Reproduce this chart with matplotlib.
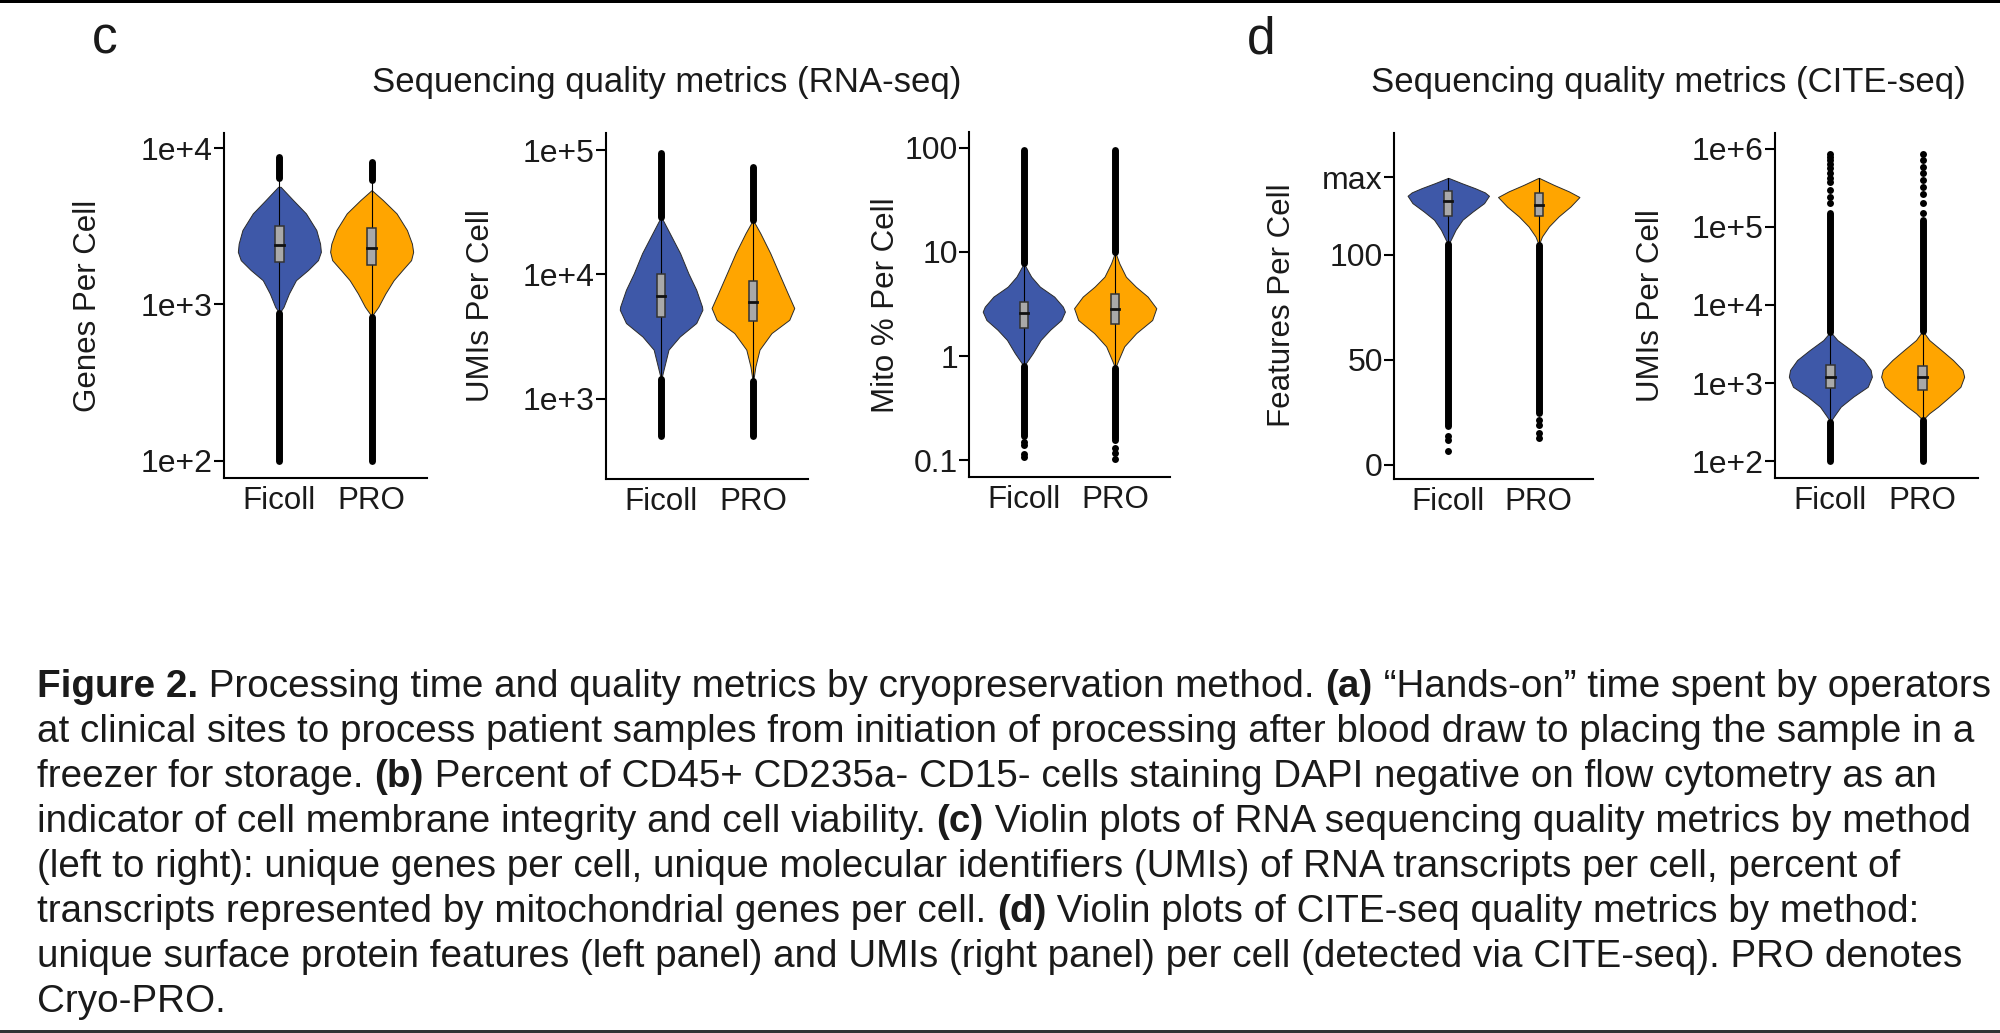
import matplotlib.pyplot as plt
from matplotlib.patches import Rectangle
from matplotlib.ticker import FixedLocator, FixedFormatter, NullLocator

plt.rcParams['font.family'] = ['Liberation Sans', 'DejaVu Sans']

W, H = 2000, 1033
TXT = '#1a1a1a'

groups = ['Ficoll', 'PRO']
fill_colors = ['#3E58A8', '#FFA500']

# ---- Genes per cell (RNA-seq) ----
genes_violin_y = [[5650, 4650, 3820, 2990, 2450, 2170, 1920, 1660, 1430, 1175, 965, 880],
                  [5380, 4650, 3820, 2990, 2450, 2170, 1920, 1660, 1430, 1175, 965, 841]]
genes_violin_w = [[0.03, 0.33, 0.64, 0.89, 0.98, 1.0, 0.93, 0.69, 0.40, 0.23, 0.10, 0.0],
                  [0.0, 0.27, 0.60, 0.85, 0.97, 1.0, 0.95, 0.74, 0.53, 0.33, 0.16, 0.0]]
genes_box = [[1860, 2400, 3160], [1780, 2280, 3060]]
genes_whisker = [[880, 6400], [830, 6240]]
genes_dense = [[(100, 880), (6400, 8700)], [(100, 830), (6240, 8170)]]
genes_sparse = [[], []]

# ---- UMIs per cell (RNA-seq) ----
umis_violin_y = [[29100, 21400, 14800, 10200, 7520, 5510, 5190, 4060, 3160, 2480, 1820, 1420],
                 [27400, 21400, 14800, 10200, 7060, 5360, 4310, 3370, 2480, 1820, 1340]]
umis_violin_w = [[0.0, 0.21, 0.46, 0.66, 0.85, 0.99, 1.0, 0.85, 0.45, 0.18, 0.08, 0.0],
                 [0.0, 0.18, 0.42, 0.63, 0.84, 1.0, 0.88, 0.45, 0.16, 0.06, 0.0]]
umis_box = [[4580, 6640, 10100], [4210, 5940, 8870]]
umis_whisker = [[1450, 29100], [1380, 27400]]
umis_dense = [[(498, 1450), (29100, 94000)], [(498, 1380), (27400, 73500)]]
umis_sparse = [[], []]

# ---- Mito % per cell ----
mito_violin_y = [[7.76, 5.78, 4.64, 3.72, 2.98, 2.67, 2.22, 1.79, 1.43, 1.07, 0.80],
                 [10.0, 7.76, 5.78, 4.64, 3.72, 2.88, 2.22, 1.66, 1.24, 0.92, 0.77]]
mito_violin_w = [[0.0, 0.18, 0.39, 0.74, 0.95, 1.0, 0.91, 0.64, 0.41, 0.22, 0.0],
                 [0.0, 0.10, 0.26, 0.50, 0.79, 1.0, 0.90, 0.51, 0.22, 0.08, 0.0]]
mito_box = [[1.85, 2.61, 3.33], [2.04, 2.84, 3.94]]
mito_whisker = [[0.80, 7.76], [0.77, 10.0]]
mito_dense = [[(0.17, 0.80), (7.76, 94)], [(0.165, 0.77), (10.0, 94)]]
mito_sparse = [[0.15, 0.14, 0.115, 0.107], [0.158, 0.132, 0.118, 0.102]]

# ---- Features per cell (CITE-seq) ----
feat_max = 137
feat_violin_y = [[136.5, 134.1, 131.7, 129.7, 128.1, 124.6, 120.6, 116.7, 111.9, 107.1, 105.0],
                 [136.5, 133.3, 130.2, 127.5, 123.0, 118.3, 113.5, 108.7, 104.8]]
feat_violin_w = [[0.02, 0.33, 0.66, 0.90, 1.0, 0.88, 0.60, 0.35, 0.18, 0.06, 0.0],
                 [0.02, 0.37, 0.74, 1.0, 0.78, 0.49, 0.25, 0.08, 0.0]]
feat_box = [[118.3, 125.4, 130.2], [118.3, 123.8, 129.4]]
feat_whisker = [[105.0, 136.8], [104.8, 136.8]]
feat_dense = [[(18.3, 105.0)], [(24.6, 104.8)]]
feat_sparse = [[13.5, 11.9, 6.3], [21.4, 19.0, 15.0, 12.6]]

# ---- UMIs per cell (CITE-seq) ----
cite_violin_y = [[4550, 3560, 2650, 1980, 1480, 1210, 900, 673, 501, 373, 322],
                 [4680, 3560, 2650, 1980, 1480, 1210, 900, 673, 501, 413, 339]]
cite_violin_w = [[0.0, 0.17, 0.50, 0.80, 0.97, 1.0, 0.90, 0.55, 0.25, 0.08, 0.0],
                 [0.0, 0.16, 0.45, 0.73, 0.96, 1.0, 0.91, 0.65, 0.37, 0.16, 0.0]]
cite_box = [[860, 1210, 1710], [830, 1210, 1660]]
cite_whisker = [[322, 4550], [339, 4680]]
cite_dense = [[(100, 322), (4550, 148000)], [(100, 339), (4680, 122000)]]
cite_sparse = [[199000, 241000, 293000, 374000, 414000, 480000, 560000, 640000, 709000, 782000, 863000],
               [148000, 199000, 266000, 324000, 394000, 480000, 582000, 709000, 863000]]

ylabels = ['Genes Per Cell', 'UMIs Per Cell', 'Mito % Per Cell', 'Features Per Cell', 'UMIs Per Cell']
log_scale = [True, True, True, False, True]
ylims = [(77.8, 12470), (226, 137000), (0.0693, 141), (-6.8, 158), (61.4, 1.58e6)]
yticks = [[1e2, 1e3, 1e4], [1e3, 1e4, 1e5], [0.1, 1, 10, 100], [0, 50, 100, feat_max],
          [1e2, 1e3, 1e4, 1e5, 1e6]]
yticklabels = [['1e+2', '1e+3', '1e+4'], ['1e+3', '1e+4', '1e+5'], ['0.1', '1', '10', '100'],
               ['0', '50', '100', 'max'], ['1e+2', '1e+3', '1e+4', '1e+5', '1e+6']]

panels = [
    (genes_violin_y, genes_violin_w, genes_box, genes_whisker, genes_dense, genes_sparse),
    (umis_violin_y, umis_violin_w, umis_box, umis_whisker, umis_dense, umis_sparse),
    (mito_violin_y, mito_violin_w, mito_box, mito_whisker, mito_dense, mito_sparse),
    (feat_violin_y, feat_violin_w, feat_box, feat_whisker, feat_dense, feat_sparse),
    (cite_violin_y, cite_violin_w, cite_box, cite_whisker, cite_dense, cite_sparse),
]

# axes frames in pixels: left, top, right, bottom
frames = [(224, 133, 427, 478), (606, 133, 808, 479), (969, 132, 1170, 477),
          (1394, 133, 1593, 479), (1775, 133, 1978, 478)]
ylabel_x = [88, 481, 886, 1282, 1651]

fig = plt.figure(figsize=(W / 100, H / 100), dpi=100)

for i, (vy, vw, box, whisk, dense, sparse) in enumerate(panels):
    l, t, r, b = frames[i]
    ax = fig.add_axes([l / W, 1 - b / H, (r - l) / W, (b - t) / H])
    if log_scale[i]:
        ax.set_yscale('log')
    for g in range(2):
        x = g + 1
        half = [w * 0.45 for w in vw[g]]
        ax.fill_betweenx(vy[g], [x - h for h in half], [x + h for h in half],
                         facecolor=fill_colors[g], edgecolor='#2b2b2b', lw=0.7, zorder=2)
        for lo, hi in dense[g]:
            ax.plot([x, x], [lo, hi], color='black', lw=5, solid_capstyle='round', zorder=3)
        if sparse[g]:
            ax.plot([x] * len(sparse[g]), sparse[g], 'o', color='black', ms=5, mew=0, zorder=3)
        ax.plot([x, x], whisk[g], color='black', lw=0.8, zorder=3)
        q1, med, q3 = box[g]
        ax.add_patch(Rectangle((x - 0.045, q1), 0.09, q3 - q1, facecolor='#A9A9A9',
                               edgecolor='#333333', lw=1.1, zorder=4))
        ax.plot([x - 0.045, x + 0.045], [med, med], color='#111111', lw=2, zorder=5)

    ax.set_xlim(0.4, 2.6)
    ax.set_ylim(*ylims[i])
    ax.set_xticks([1, 2])
    ax.set_xticklabels(groups)
    ax.yaxis.set_major_locator(FixedLocator(yticks[i]))
    ax.yaxis.set_major_formatter(FixedFormatter(yticklabels[i]))
    ax.yaxis.set_minor_locator(NullLocator())
    for s in ['top', 'right']:
        ax.spines[s].set_visible(False)
    for s in ['left', 'bottom']:
        ax.spines[s].set_linewidth(1.5)
        ax.spines[s].set_color('black')
    ax.tick_params(axis='y', length=7, width=1.5, labelsize=23, pad=1, labelcolor=TXT)
    ax.tick_params(axis='x', length=0, labelsize=22.5, pad=6, labelcolor=TXT)
    ax.set_facecolor('none')
    fig.text(ylabel_x[i] / W, 1 - 305.5 / H, ylabels[i], rotation=90, fontsize=22.5,
             ha='center', va='center', color=TXT)

# panel letters and titles
fig.text(92 / W, 1 - 53 / H, 'c', fontsize=37, va='baseline', color=TXT)
fig.text(1247 / W, 1 - 53 / H, 'd', fontsize=37, va='baseline', color=TXT)
fig.text(372 / W, 1 - 92 / H, 'Sequencing quality metrics (RNA-seq)', fontsize=25,
         va='baseline', color=TXT)
fig.text(1371 / W, 1 - 92 / H, 'Sequencing quality metrics (CITE-seq)', fontsize=25,
         va='baseline', color=TXT)

# caption
caption = [
    [('Figure 2.', True), (' Processing time and quality metrics by cryopreservation method. ', False),
     ('(a)', True), (' \u201cHands-on\u201d time spent by operators', False)],
    [('at clinical sites to process patient samples from initiation of processing after blood draw to placing the sample in a', False)],
    [('freezer for storage. ', False), ('(b)', True),
     (' Percent of CD45+ CD235a- CD15- cells staining DAPI negative on flow cytometry as an', False)],
    [('indicator of cell membrane integrity and cell viability. ', False), ('(c)', True),
     (' Violin plots of RNA sequencing quality metrics by method', False)],
    [('(left to right): unique genes per cell, unique molecular identifiers (UMIs) of RNA transcripts per cell, percent of', False)],
    [('transcripts represented by mitochondrial genes per cell. ', False), ('(d)', True),
     (' Violin plots of CITE-seq quality metrics by method:', False)],
    [('unique surface protein features (left panel) and UMIs (right panel) per cell (detected via CITE-seq). PRO denotes', False)],
    [('Cryo-PRO.', False)],
]
cap_fs = 27.8
renderer = fig.canvas.get_renderer()


def text_width(s, bold):
    w = 'bold' if bold else 'normal'
    t1 = fig.text(0, 0, s + '|', fontsize=cap_fs, fontweight=w)
    t2 = fig.text(0, 0, '|', fontsize=cap_fs, fontweight=w)
    width = t1.get_window_extent(renderer).width - t2.get_window_extent(renderer).width
    t1.remove()
    t2.remove()
    return width


for k, parts in enumerate(caption):
    x = 37
    y = 1012 - 45 * (len(caption) - 1 - k)
    for s, bold in parts:
        fig.text(x / W, 1 - y / H, s, fontsize=cap_fs, fontweight='bold' if bold else 'normal',
                 va='baseline', ha='left', color=TXT)
        x += text_width(s, bold)

# frame lines of the original page
fig.add_artist(Rectangle((0, 1 - 3 / H), 1, 3 / H, transform=fig.transFigure,
                         facecolor='black', edgecolor='none'))
fig.add_artist(Rectangle((0, 0), 1, 3 / H, transform=fig.transFigure,
                         facecolor='#333333', edgecolor='none'))

fig.savefig('out.png', dpi=100, facecolor='white')
